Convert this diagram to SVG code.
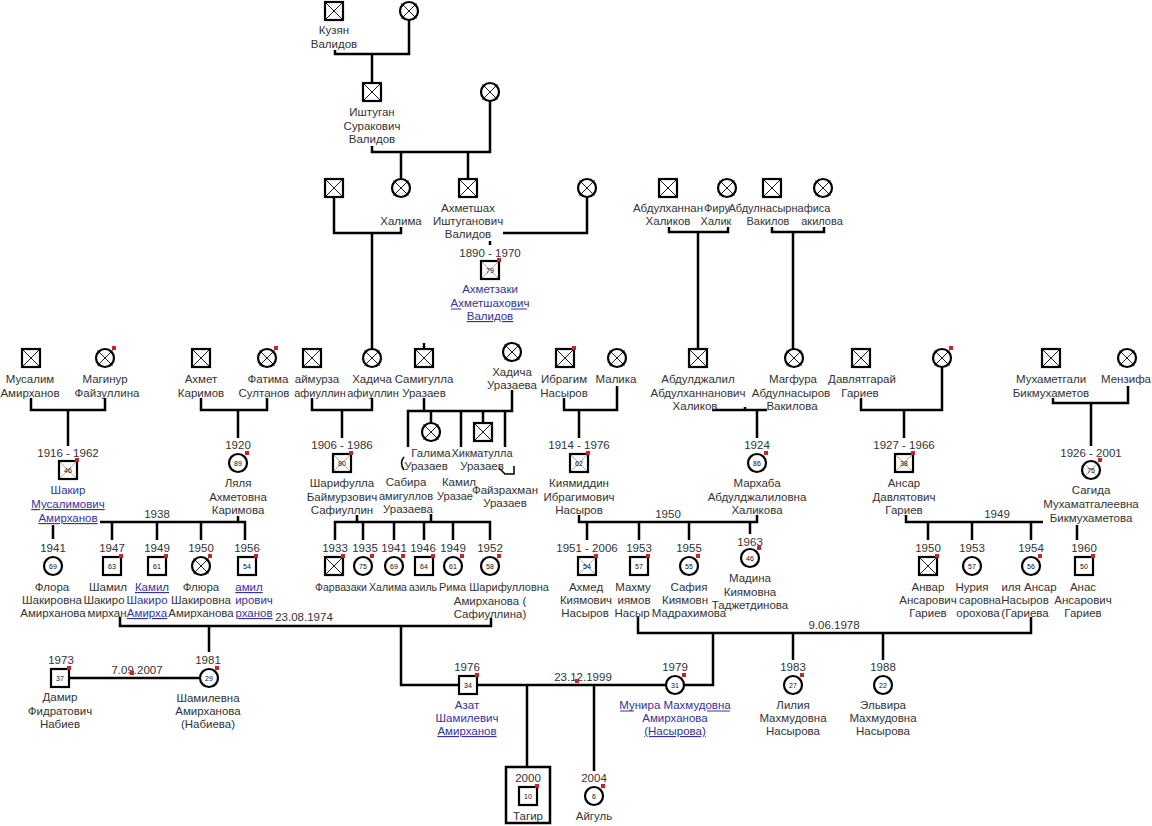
<svg xmlns="http://www.w3.org/2000/svg" width="1152" height="826" viewBox="0 0 1152 826">
<style>
.sh{fill:#fff;stroke:#000;stroke-width:2.2}
.x{stroke:#000;stroke-width:0.9;fill:none}
.xl{stroke:#777;stroke-width:0.6;fill:none}
.ln{stroke:#000;stroke-width:2.5;fill:none}
.pt{stroke:#000;stroke-width:1.5;fill:none}
.rd{fill:#c0282d}
text{font-family:"Liberation Sans",Arial,sans-serif;font-size:11.5px;fill:#333;text-anchor:middle}
.sm{font-size:11px}
.xs{font-size:10.5px}
.lk{fill:#33339e}
.u{text-decoration:underline}
.n{font-size:7px;fill:#111}
</style>
<defs>
<g id="s"><rect class="sh" x="-9" y="-9" width="18" height="18"/></g>
<g id="sx"><rect class="sh" x="-9" y="-9" width="18" height="18"/><path class="x" d="M-9 -9L9 9M9 -9L-9 9"/></g>
<g id="sxn"><rect class="sh" x="-9" y="-9" width="18" height="18"/><path class="xl" d="M-8 -8L8 8M8 -8L-8 8"/></g>
<g id="c"><circle class="sh" r="9"/></g>
<g id="cx"><circle class="sh" r="9"/><path class="x" d="M-7.5 -7.5L7.5 7.5M7.5 -7.5L-7.5 7.5"/></g>
<g id="cxn"><circle class="sh" r="9"/><path class="xl" d="M-7 -7L7 7M7 -7L-7 7"/></g>
<rect id="r" class="rd" width="4" height="4"/>
</defs>
<rect width="1152" height="826" fill="#fff"/>
<g id="connectors">
<path class="ln" d="M335 50V54H409V20M372 54V83"/>
<path class="ln" d="M372 146V152H490V101M401 152V179M468 152V179"/>
<path class="ln" d="M334 197V233H401V227M372 233V349"/>
<path class="ln" d="M503 233H587V197M490 241V245"/>
<path class="ln" d="M669 227V232H728V227M698 232V349"/>
<path class="ln" d="M772 227V232H824V227M793 232V349"/>
<path class="ln" d="M31 398V410H105V398M68 410V446"/>
<path class="ln" d="M201 398V410H267V398M238 410V438"/>
<path class="ln" d="M312 398V410H372V398M342 410V438"/>
<path class="ln" d="M424 343V348M424 398V411M408 447V411H512V390M431 411V423M461 411V447M483 411V423M505 411V447"/>
<path class="ln" d="M564 398V410H617V386M579 410V438"/>
<path class="ln" d="M712 410H767M745 407V410M757 410V438"/>
<path class="ln" d="M861 398V410H942V367M904 410V438"/>
<path class="ln" d="M1053 398V403H1128V386M1091 403V446"/>
<path class="ln" d="M100 522H245V540M238 516V522M53 525V539M112 522V540M157 522V540M201 522V540"/>
<path class="ln" d="M357 515V522M431 514V522M335 540V522H490V540M363 522V540M394 522V540M424 522V540M453 522V540"/>
<path class="ln" d="M579 515V522H757V515M587 522V540M639 522V540M689 522V540M750 522V534"/>
<path class="ln" d="M906 515V522H1043M928 522V540M972 522V540M1031 522V540M1077 525V540"/>
<path class="ln" d="M120 617V626H491V618M209 626V652M401 626V685H458"/>
<path class="ln" d="M638 617V633H1031V617M793 633V660M883 633V660M713 633V685H684"/>
<path class="ln" d="M69 678H199"/>
<path class="ln" d="M477 685H666M527 685V767M594 685V771"/>
<rect class="ln" x="506" y="767" width="44" height="56"/>
<text x="157" y="518">1938</text>
<text x="668" y="518">1950</text>
<text x="997" y="518">1949</text>
<text x="304" y="621">23.08.1974</text>
<text x="834" y="629">9.06.1978</text>
<text x="137" y="674">7.09.2007</text><use href="#r" x="130" y="671"/>
<text x="583" y="681">23.12.1999</text><use href="#r" x="575" y="679"/>
</g>
<g id="n-kuzyan"><use href="#sx" x="334" y="11"/><text x="334" y="34">Кузян</text><text x="334" y="48">Валидов</text></g>
<g id="n-kuzyan-w"><use href="#cx" x="409" y="11"/></g>
<g id="n-ishtugan"><use href="#sx" x="372" y="92"/><text x="372" y="116">Иштуган</text><text x="372" y="130">Суракович</text><text x="372" y="143">Валидов</text></g>
<g id="n-ishtugan-w"><use href="#cx" x="490" y="92"/></g>
<g id="n-halima-h"><use href="#sx" x="334" y="188"/></g>
<g id="n-halima"><use href="#cx" x="401" y="188"/><text x="401" y="225">Халима</text></g>
<g id="n-ahmetshah"><use href="#sx" x="468" y="188"/><text x="468" y="212">Ахметшах</text><text x="468" y="225">Иштуганович</text><text x="468" y="238">Валидов</text></g>
<g id="n-ahmetshah-w"><use href="#cx" x="587" y="188"/></g>
<g id="n-ahmetzaki"><text x="490" y="257">1890 - 1970</text><use href="#sxn" x="490" y="270"/><text class="n" x="490" y="272.5">79</text><use href="#r" x="497" y="258"/>
<text class="lk" x="490" y="293">Ахметзаки</text><text class="lk" x="490" y="307">Ахметшахович</text><text class="lk u" x="490" y="320">Валидов</text>
<path d="M451 309H461M511 309H527" stroke="#33339e" stroke-width="1"/></g>
<g id="n-abdulhannan"><use href="#sx" x="668" y="188"/><text x="668" y="212">Абдулханнан</text><text x="668" y="225">Халиков</text></g>
<g id="n-firuza"><use href="#cx" x="727" y="188"/><text class="sm" x="717" y="212">Фиру</text><text class="sm" x="716" y="225">Халик</text></g>
<g id="n-abdulnasyr"><use href="#sx" x="772" y="188"/><text class="sm" x="760" y="212">Абдулнасыр</text><text class="sm" x="768" y="225">Вакилов</text></g>
<g id="n-gulnafisa"><use href="#cx" x="823" y="188"/><text class="sm" x="811" y="212">нафиса</text><text class="sm" x="822" y="225">акилова</text></g>
<g id="n-musalim"><use href="#sx" x="31" y="358"/><text x="30" y="383">Мусалим</text><text x="30" y="397">Амирханов</text></g>
<g id="n-maginur"><use href="#cx" x="105" y="358"/><use href="#r" x="112" y="346"/><text x="105" y="383">Магинур</text><text x="107" y="397">Файзуллина</text></g>
<g id="n-ahmet"><use href="#sx" x="201" y="358"/><text x="201" y="383">Ахмет</text><text x="201" y="397">Каримов</text></g>
<g id="n-fatima"><use href="#cx" x="267" y="358"/><use href="#r" x="274" y="346"/><text x="268" y="383">Фатима</text><text x="264" y="397">Султанов</text></g>
<g id="n-baimurza"><use href="#sx" x="312" y="358"/><text x="317" y="383">аймурза</text><text class="sm" x="320" y="397">афиуллин</text></g>
<g id="n-hadicha-s"><use href="#cx" x="372" y="358"/><text x="372" y="383">Хадича</text><text class="sm" x="373" y="397">афиуллин</text></g>
<g id="n-samigulla"><use href="#sx" x="424" y="358"/><text x="424" y="383">Самигулла</text><text x="424" y="397">Уразаев</text></g>
<g id="n-hadicha-u"><use href="#cx" x="512" y="352"/><text x="512" y="376">Хадича</text><text x="512" y="389">Уразаева</text></g>
<g id="n-ibragim"><use href="#sx" x="565" y="358"/><use href="#r" x="572" y="346"/><text x="564" y="383">Ибрагим</text><text x="564" y="397">Насыров</text></g>
<g id="n-malika"><use href="#cx" x="617" y="358"/><text x="616" y="383">Малика</text></g>
<g id="n-abduljalil"><use href="#sx" x="698" y="358"/><text x="698" y="383">Абдулджалил</text><text x="698" y="397">Абдулханнанович</text><text x="695" y="410">Халиков</text></g>
<g id="n-magfura"><use href="#cx" x="794" y="358"/><text x="793" y="383">Магфура</text><text x="791" y="397">Абдулнасыров</text><text x="792" y="410">Вакилова</text></g>
<g id="n-davlyat"><use href="#sx" x="861" y="358"/><text x="862" y="383">Давлятгарай</text><text x="860" y="397">Гариев</text></g>
<g id="n-davlyat-w"><use href="#cx" x="942" y="358"/><use href="#r" x="949" y="346"/></g>
<g id="n-muhametgali"><use href="#sx" x="1051" y="358"/><text x="1051" y="383">Мухаметгали</text><text x="1051" y="397">Бикмухаметов</text></g>
<g id="n-menzifa"><use href="#cx" x="1127" y="358"/><text x="1126" y="383">Мензифа</text></g>
<g id="n-shakir"><text x="68" y="457">1916 - 1962</text><use href="#sxn" x="68" y="470"/><text class="n" x="68" y="472.5">46</text><use href="#r" x="75" y="458"/>
<text class="lk" x="68" y="494">Шакир</text><text class="lk u" x="68" y="508">Мусалимович</text><text class="lk u" x="68" y="522">Амирханов</text></g>
<g id="n-lyalya"><text x="238" y="449">1920</text><use href="#c" x="238" y="463"/><text class="n" x="238" y="465.5">89</text><use href="#r" x="245" y="451"/>
<text x="238" y="487">Ляля</text><text x="238" y="501">Ахметовна</text><text x="238" y="514">Каримова</text></g>
<g id="n-sharifulla"><text x="342" y="449">1906 - 1986</text><use href="#sxn" x="342" y="463"/><text class="n" x="342" y="465.5">80</text><use href="#r" x="349" y="451"/>
<text x="342" y="487">Шарифулла</text><text x="342" y="501">Баймурзович</text><text x="342" y="514">Сафиуллин</text></g>
<g id="n-sabira"><path class="pt" d="M404 457Q399 463 404 470"/><text x="406" y="486">Сабира</text><text class="sm" x="406" y="500">амигуллов</text><text x="408" y="513">Уразаева</text></g>
<g id="n-galima"><use href="#cx" x="431" y="432"/><text x="431" y="457">Галима</text><text x="426" y="470">Уразаев</text></g>
<g id="n-kamil-u"><text x="459" y="486">Камил</text><text class="sm" x="455" y="500">Уразае</text></g>
<g id="n-hikmat"><use href="#sx" x="483" y="432"/><text class="sm" x="482" y="457">Хикматулла</text><text x="482" y="470">Уразаев</text></g>
<g id="n-faizrahman"><path class="pt" d="M499 468L505 474H514V466"/><text x="505" y="494">Файзрахман</text><text x="505" y="507">Уразаев</text></g>
<g id="n-kiyamiddin"><text x="579" y="449">1914 - 1976</text><use href="#sxn" x="579" y="463"/><text class="n" x="579" y="465.5">62</text><use href="#r" x="586" y="451"/>
<text x="579" y="487">Киямиддин</text><text x="579" y="501">Ибрагимович</text><text x="579" y="514">Насыров</text></g>
<g id="n-marhaba"><text x="757" y="449">1924</text><use href="#c" x="757" y="463"/><text class="n" x="757" y="465.5">86</text><use href="#r" x="764" y="451"/>
<text x="757" y="487">Мархаба</text><text x="757" y="501">Абдулджалиловна</text><text x="757" y="514">Халикова</text></g>
<g id="n-ansar"><text x="904" y="449">1927 - 1966</text><use href="#sxn" x="904" y="463"/><text class="n" x="904" y="465.5">38</text><use href="#r" x="911" y="451"/>
<text x="904" y="487">Ансар</text><text x="904" y="501">Давлятович</text><text x="904" y="514">Гариев</text></g>
<g id="n-sagida"><text x="1091" y="457">1926 - 2001</text><use href="#cxn" x="1091" y="470"/><text class="n" x="1091" y="472.5">75</text><use href="#r" x="1098" y="458"/>
<text x="1091" y="494">Сагида</text><text x="1091" y="508">Мухаматгалеевна</text><text x="1091" y="522">Бикмухаметова</text></g>
<g id="n-flora"><text x="53" y="552">1941</text><use href="#c" x="53" y="566"/><text class="n" x="53" y="568.5">69</text>
<text x="52" y="591">Флора</text><text x="52" y="604">Шакировна</text><text x="53" y="617">Амирханова</text></g>
<g id="n-shamil"><text x="112" y="552">1947</text><use href="#s" x="112" y="566"/><text class="n" x="112" y="568.5">63</text><use href="#r" x="119" y="554"/>
<text x="108" y="591">Шамил</text><text x="104" y="604">Шакиро</text><text x="107" y="617">мирхан</text></g>
<g id="n-kamil"><text x="157" y="552">1949</text><use href="#s" x="157" y="566"/><text class="n" x="157" y="568.5">61</text><use href="#r" x="164" y="554"/>
<text class="lk u" x="152" y="591">Камил</text><text class="lk" x="147" y="604">Шакиро</text><text class="lk u" x="147" y="617">Амирха</text></g>
<g id="n-flyura"><text x="201" y="552">1950</text><use href="#cx" x="201" y="566"/><use href="#r" x="208" y="554"/>
<text x="201" y="591">Флюра</text><text x="201" y="604">Шакировна</text><text x="201" y="617">Амирханова</text></g>
<g id="n-1956"><text x="247" y="552">1956</text><use href="#s" x="247" y="566"/><text class="n" x="247" y="568.5">54</text><use href="#r" x="254" y="554"/>
<text class="lk u" x="249" y="591">амил</text><text class="lk" x="254" y="604">ирович</text><text class="lk u" x="254" y="617">рханов</text></g>
<g id="n-farvazaki"><text x="335" y="552">1933</text><use href="#sx" x="334" y="566"/><use href="#r" x="341" y="554"/><text class="xs" x="341" y="591">Фарвазаки</text></g>
<g id="n-1935"><text x="365" y="552">1935</text><use href="#c" x="363" y="566"/><text class="n" x="363" y="568.5">75</text><use href="#r" x="370" y="554"/></g>
<g id="n-halima2"><text x="394" y="552">1941</text><use href="#c" x="394" y="566"/><text class="n" x="394" y="568.5">69</text><use href="#r" x="401" y="554"/><text class="xs" x="388" y="591">Халима</text></g>
<g id="n-1946"><text x="423" y="552">1946</text><use href="#s" x="424" y="566"/><text class="n" x="424" y="568.5">64</text><use href="#r" x="431" y="554"/><text class="xs" x="423" y="591">азиль</text></g>
<g id="n-1949s"><text x="453" y="552">1949</text><use href="#c" x="453" y="566"/><text class="n" x="453" y="568.5">61</text><use href="#r" x="460" y="554"/></g>
<g id="n-rima"><text x="490" y="552">1952</text><use href="#c" x="490" y="566"/><text class="n" x="490" y="568.5">58</text><use href="#r" x="497" y="554"/>
<text class="sm" x="494" y="591">Рима Шарифулловна</text><text x="490" y="605">Амирханова (</text><text x="490" y="618">Сафиуллина)</text></g>
<g id="n-ahmed"><text x="587" y="552">1951 - 2006</text><use href="#sxn" x="587" y="566"/><text class="n" x="587" y="568.5">54</text><use href="#r" x="594" y="554"/>
<text x="586" y="591">Ахмед</text><text x="586" y="604">Киямович</text><text x="585" y="617">Насыров</text></g>
<g id="n-mahmud"><text x="639" y="552">1953</text><use href="#s" x="639" y="566"/><text class="n" x="639" y="568.5">57</text><use href="#r" x="646" y="554"/>
<text x="633" y="591">Махму</text><text x="634" y="604">иямов</text><text x="632" y="617">Насыр</text></g>
<g id="n-safiya"><text x="689" y="552">1955</text><use href="#c" x="689" y="566"/><text class="n" x="689" y="568.5">55</text><use href="#r" x="696" y="554"/>
<text x="689" y="591">Сафия</text><text x="685" y="604">Киямовн</text><text x="689" y="617">Мадрахимова</text></g>
<g id="n-madina"><text x="750" y="546">1963</text><use href="#c" x="750" y="558"/><text class="n" x="750" y="560.5">46</text><use href="#r" x="757" y="546"/>
<text x="750" y="582">Мадина</text><text x="750" y="596">Киямовна</text><text x="750" y="609">Таджетдинова</text></g>
<g id="n-anvar"><text x="928" y="552">1950</text><use href="#sx" x="928" y="566"/><use href="#r" x="935" y="554"/>
<text x="928" y="591">Анвар</text><text x="928" y="604">Ансарович</text><text x="928" y="617">Гариев</text></g>
<g id="n-nuriya"><text x="972" y="552">1953</text><use href="#c" x="972" y="566"/><text class="n" x="972" y="568.5">57</text>
<text x="972" y="591">Нурия</text><text class="sm" x="980" y="604">саровна</text><text x="978" y="617">орохова</text></g>
<g id="n-1954"><text x="1031" y="552">1954</text><use href="#c" x="1031" y="566"/><text class="n" x="1031" y="568.5">56</text><use href="#r" x="1038" y="554"/>
<text x="1029" y="591">иля Ансар</text><text x="1025" y="604">Насыров</text><text x="1025" y="617">(Гариева</text></g>
<g id="n-anas"><text x="1084" y="552">1960</text><use href="#s" x="1084" y="566"/><text class="n" x="1084" y="568.5">50</text><use href="#r" x="1091" y="554"/>
<text x="1083" y="591">Анас</text><text x="1083" y="604">Ансарович</text><text x="1083" y="617">Гариев</text></g>
<g id="n-damir"><text x="61" y="664">1973</text><use href="#s" x="60" y="678"/><text class="n" x="60" y="680.5">37</text><use href="#r" x="67" y="666"/>
<text x="60" y="701">Дамир</text><text x="60" y="715">Фидратович</text><text x="60" y="728">Набиев</text></g>
<g id="n-shamilevna"><text x="208" y="664">1981</text><use href="#c" x="209" y="678"/><text class="n" x="209" y="680.5">29</text><use href="#r" x="215" y="666"/>
<text x="208" y="702">Шамилевна</text><text x="208" y="715">Амирханова</text><text x="208" y="728">(Набиева)</text></g>
<g id="n-azat"><text x="467" y="671">1976</text><use href="#s" x="468" y="685"/><text class="n" x="468" y="687.5">34</text><use href="#r" x="475" y="673"/>
<text class="lk" x="467" y="709">Азат</text><text class="lk" x="467" y="722">Шамилевич</text><text class="lk u" x="467" y="735">Амирханов</text></g>
<g id="n-munira"><text x="675" y="671">1979</text><use href="#c" x="675" y="685"/><text class="n" x="675" y="687.5">31</text><use href="#r" x="682" y="673"/>
<text class="lk" x="675" y="709">Мунира Махмудовна</text><text class="lk" x="675" y="722">Амирханова</text><text class="lk u" x="675" y="735">(Насырова)</text>
<path d="M620 711H634M707 711H730" stroke="#33339e" stroke-width="1"/></g>
<g id="n-tagir"><text x="528" y="782">2000</text><use href="#s" x="528" y="796"/><text class="n" x="528" y="798.5">10</text><use href="#r" x="535" y="784"/><text x="528" y="820">Тагир</text></g>
<g id="n-aigul"><text x="594" y="782">2004</text><use href="#c" x="594" y="796"/><text class="n" x="594" y="798.5">6</text><use href="#r" x="601" y="784"/><text x="594" y="820">Айгуль</text></g>
<g id="n-liliya"><text x="793" y="671">1983</text><use href="#c" x="793" y="685"/><text class="n" x="793" y="687.5">27</text><use href="#r" x="800" y="673"/>
<text x="793" y="709">Лилия</text><text x="793" y="722">Махмудовна</text><text x="793" y="735">Насырова</text></g>
<g id="n-elvira"><text x="883" y="671">1988</text><use href="#c" x="883" y="685"/><text class="n" x="883" y="687.5">22</text>
<text x="883" y="709">Эльвира</text><text x="883" y="722">Махмудовна</text><text x="883" y="735">Насырова</text></g>
</svg>
